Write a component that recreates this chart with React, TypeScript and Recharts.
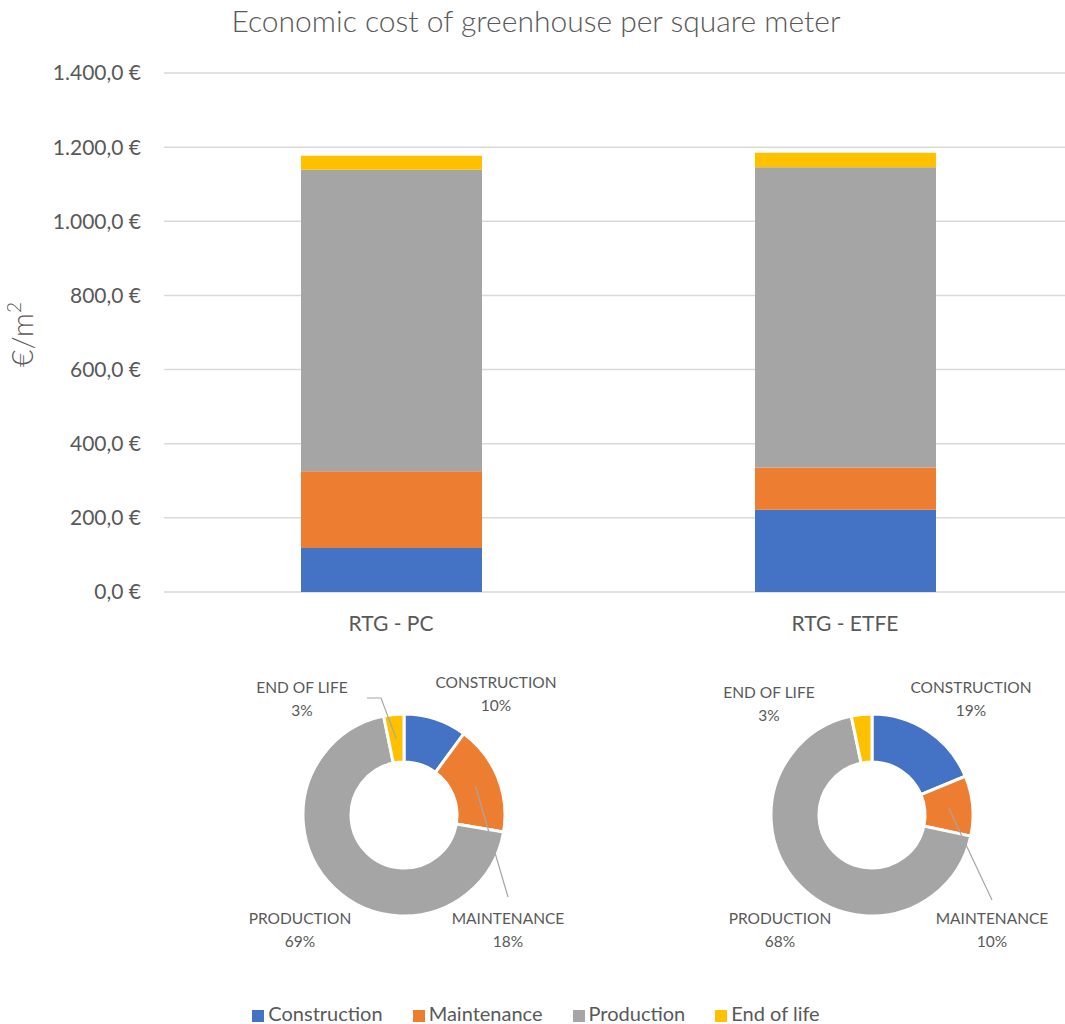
import {
  BarChart,
  Bar,
  XAxis,
  YAxis,
  CartesianGrid,
  Legend,
  PieChart,
  Pie,
  Cell,
} from 'recharts'

const categories = ['RTG - PC', 'RTG - ETFE']
const seriesNames = ['Construction', 'Maintenance', 'Production', 'End of life']
const construction = [119, 222]
const maintenance = [207, 114]
const production = [813, 810]
const endOfLife = [38, 39]
const yTicks = [0, 200, 400, 600, 800, 1000, 1200, 1400]

const colors = ['#4472C4', '#ED7D31', '#A5A5A5', '#FFC000']
const seriesValues = [construction, maintenance, production, endOfLife]
const seriesKeys = ['construction', 'maintenance', 'production', 'endOfLife']

const barData = categories.map((name, i) => ({
  name,
  construction: construction[i],
  maintenance: maintenance[i],
  production: production[i],
  endOfLife: endOfLife[i],
}))

const pieData = categories.map((_, i) =>
  seriesNames.map((name, s) => ({ name, value: seriesValues[s][i] })),
)

// label placement around each donut (offsets from the donut centre)
const pieLayouts = [
  {
    cx: 404,
    cy: 815,
    labels: [
      { dx: 92, dy: -132 },
      { dx: 104, dy: 104 },
      { dx: -104, dy: 104 },
      { dx: -102, dy: -127 },
    ],
    leaders: { 1: [[104, 82]], 3: [[-23, -117], [-37, -117]] } as Record<number, number[][]>,
  },
  {
    cx: 872,
    cy: 815,
    labels: [
      { dx: 99, dy: -127 },
      { dx: 120, dy: 104 },
      { dx: -92, dy: 104 },
      { dx: -103, dy: -122 },
    ],
    leaders: { 1: [[120, 85]] } as Record<number, number[][]>,
  },
]

const FONT = 'Lato, "Open Sans", sans-serif'
const TEXT = '#595959'
const RADIAN = Math.PI / 180

function formatEuro(v: number) {
  const [int, dec] = v.toFixed(1).split('.')
  return int.replace(/\B(?=(\d{3})+(?!\d))/g, '.') + ',' + dec + ' €'
}

function makeLabel(layout: (typeof pieLayouts)[number]) {
  return (props: any) => {
    const { cx, cy, midAngle, innerRadius, outerRadius, percent, index, name } = props
    const pos = layout.labels[index]
    const tx = cx + pos.dx
    const ty = cy + pos.dy
    const leader = layout.leaders[index]
    let path = ''
    if (leader) {
      const r = (innerRadius + outerRadius) / 2
      const sx = cx + r * Math.cos(-midAngle * RADIAN)
      const sy = cy + r * Math.sin(-midAngle * RADIAN)
      path = `M${sx},${sy}` + leader.map(([dx, dy]) => `L${cx + dx},${cy + dy}`).join('')
    }
    return (
      <g>
        {path && <path d={path} stroke="#A6A6A6" strokeWidth={1.2} fill="none" />}
        <text x={tx} y={ty} textAnchor="middle" dy="0.35em" fill={TEXT} fontSize={15.5} fontFamily={FONT}>
          {String(name).toUpperCase()}
        </text>
        <text x={tx} y={ty + 23} textAnchor="middle" dy="0.35em" fill={TEXT} fontSize={15.5} fontFamily={FONT}>
          {Math.round(percent * 100)}%
        </text>
      </g>
    )
  }
}

function YTitle(props: any) {
  const { viewBox } = props
  const x = 22
  const y = viewBox.y + viewBox.height / 2 + 2
  return (
    <text
      x={x}
      y={y}
      transform={`rotate(-90, ${x}, ${y})`}
      textAnchor="middle"
      dy="0.35em"
      fill={TEXT}
      fontSize={30}
      fontWeight={300}
      fontFamily={FONT}
    >
      €/m<tspan dy={-12} fontSize={19}>2</tspan>
    </text>
  )
}

export default function App() {
  return (
    <div
      style={{
        position: 'absolute',
        left: 0,
        top: 0,
        width: 1065,
        height: 1024,
        overflow: 'hidden',
        background: '#fff',
        fontFamily: FONT,
      }}
    >
      <style>{`.recharts-default-legend .recharts-legend-item { margin: 0 15px !important; }`}</style>
      <div
        style={{
          position: 'absolute',
          top: 2,
          left: 0,
          width: 1072,
          textAlign: 'center',
          fontSize: 30,
          fontWeight: 300,
          color: TEXT,
          lineHeight: 1.2,
        }}
      >
        Economic cost of greenhouse per square meter
      </div>
      <BarChart
        width={1072}
        height={1024}
        data={barData}
        margin={{ top: 73, right: 0, left: 0, bottom: 384 }}
        style={{ position: 'absolute', left: 0, top: 0 }}
      >
        <CartesianGrid vertical={false} stroke="#D9D9D9" strokeWidth={1.5} />
        <XAxis
          dataKey="name"
          height={48}
          tickLine={false}
          axisLine={false}
          tickMargin={18}
          tick={{ fill: TEXT, fontSize: 21, fontFamily: FONT }}
        />
        <YAxis
          width={164}
          domain={[0, 1400]}
          ticks={yTicks}
          tickFormatter={formatEuro}
          tickLine={false}
          axisLine={false}
          tickMargin={17}
          tick={{ fill: TEXT, fontSize: 21, fontFamily: FONT }}
          label={{ content: <YTitle /> }}
        />
        <Legend
          verticalAlign="middle"
          align="center"
          layout="horizontal"
          iconType="square"
          iconSize={12}
          itemSorter={(item: any) => seriesNames.indexOf(item.value)}
          wrapperStyle={{ top: 1004, fontSize: 20, lineHeight: '18px', fontFamily: FONT }}
          formatter={(value: string) => <span style={{ color: TEXT }}>{value}</span>}
        />
        {seriesKeys.map((k, i) => (
          <Bar
            key={k}
            dataKey={k}
            name={seriesNames[i]}
            stackId="cost"
            fill={colors[i]}
            barSize={181}
            isAnimationActive={false}
          />
        ))}
      </BarChart>
      <div style={{ position: 'absolute', left: 0, top: 0, pointerEvents: 'none' }}>
        <PieChart width={1065} height={1024} margin={{ top: 0, right: 0, bottom: 0, left: 0 }}>
          {pieLayouts.map((layout, p) => (
            <Pie
              key={p}
              data={pieData[p]}
              dataKey="value"
              nameKey="name"
              cx={layout.cx}
              cy={layout.cy}
              innerRadius={53}
              outerRadius={101}
              startAngle={90}
              endAngle={-270}
              stroke="#fff"
              strokeWidth={3}
              label={makeLabel(layout)}
              labelLine={false}
              isAnimationActive={false}
            >
              {pieData[p].map((d, i) => (
                <Cell key={d.name} fill={colors[i]} />
              ))}
            </Pie>
          ))}
        </PieChart>
      </div>
    </div>
  )
}
